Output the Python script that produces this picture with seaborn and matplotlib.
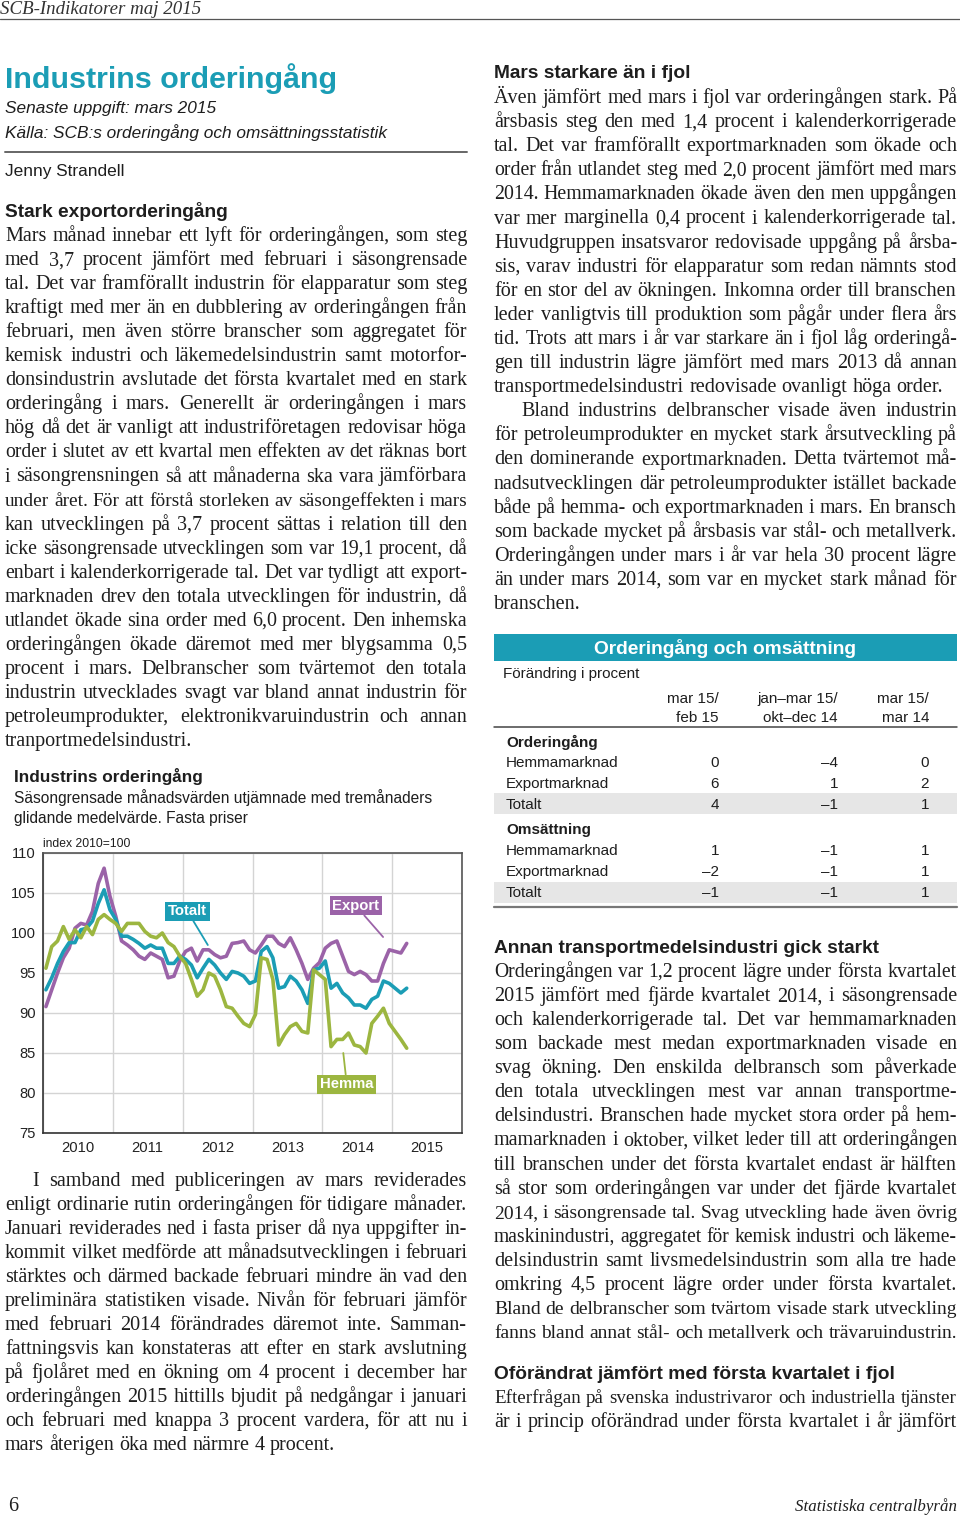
import numpy as np
import pandas as pd
import matplotlib
matplotlib.use("Agg")
import matplotlib.pyplot as plt
import seaborn as sns
from matplotlib.font_manager import FontProperties
from matplotlib.lines import Line2D
from matplotlib.patches import Rectangle
from matplotlib.ticker import FixedLocator, FixedFormatter, NullFormatter

# ---------------- data ----------------
months = pd.date_range("2010-01-01", "2015-03-01", freq="MS")
export = [90.8, 92.9, 95.0, 96.9, 98.1, 100.6, 101.2, 101.0, 102.7, 106.2,
          108.1, 104.6, 102.1, 99.0, 98.5, 97.9, 97.1, 96.7, 97.5, 97.1,
          96.7, 94.4, 94.6, 96.5, 97.7, 98.1, 96.5, 97.9, 97.9, 97.3,
          96.9, 97.1, 98.7, 98.8, 99.0, 97.9, 97.5, 98.5, 99.6, 99.6,
          98.7, 98.3, 99.4, 97.9, 96.2, 94.2, 95.6, 96.3, 98.1, 98.7,
          99.0, 97.1, 95.2, 94.8, 95.2, 94.8, 94.0, 94.0, 96.2, 97.9,
          97.7, 97.5, 98.7]
totalt = [92.9, 94.4, 96.2, 97.7, 98.8, 98.8, 100.4, 100.6, 101.5, 103.7,
          105.4, 102.9, 101.7, 99.6, 99.6, 99.2, 98.7, 98.1, 98.5, 98.1,
          98.1, 96.2, 96.2, 97.1, 96.7, 96.0, 94.4, 95.6, 96.7, 96.0,
          95.0, 94.2, 95.2, 95.0, 94.6, 93.7, 94.0, 97.7, 98.3, 96.9,
          93.1, 93.3, 94.6, 94.0, 92.9, 91.2, 95.4, 95.6, 96.5, 93.1,
          93.7, 92.5, 91.9, 91.0, 91.0, 90.6, 91.7, 92.1, 94.0, 93.7,
          93.1, 92.5, 93.1]
hemma = [95.6, 98.3, 99.0, 100.8, 99.2, 100.4, 99.4, 100.8, 99.8, 101.7,
         102.3, 101.7, 101.2, 100.2, 101.2, 101.2, 101.2, 100.2, 99.6, 99.4,
         100.0, 98.8, 98.3, 97.1, 96.2, 94.2, 92.1, 92.9, 95.0, 94.6,
         92.9, 90.8, 90.6, 89.6, 88.7, 88.3, 89.8, 96.9, 96.7, 94.2,
         86.0, 87.3, 88.3, 88.7, 87.7, 87.5, 95.4, 94.8, 94.2, 85.8,
         86.7, 86.7, 87.5, 86.0, 85.8, 85.0, 88.7, 89.6, 90.6, 88.7,
         87.7, 86.7, 85.6]
series_names = ["Export", "Totalt", "Hemma"]
year_labels = ["2010", "2011", "2012", "2013", "2014", "2015"]
y_ticks = [75, 80, 85, 90, 95, 100, 105, 110]

tab_cols = [["mar 15/", "feb 15"], ["jan\u2013mar 15/", "okt\u2013dec 14"], ["mar 15/", "mar 14"]]
tab_groups = ["Orderingång", "Omsättning"]
tab_rows = ["Hemmamarknad", "Exportmarknad", "Totalt"]
tab_order = [["0", "\u20134", "0"], ["6", "1", "2"], ["4", "\u20131", "1"]]
tab_oms = [["1", "\u20131", "1"], ["\u20132", "\u20131", "1"], ["\u20131", "\u20131", "1"]]

left_p1 = [
    "Mars månad innebar ett lyft för orderingången, som steg",
    "med 3,7 procent jämfört med februari i säsongrensade",
    "tal. Det var framförallt industrin för elapparatur som steg",
    "kraftigt med mer än en dubblering av orderingången från",
    "februari, men även större branscher som aggregatet för",
    "kemisk industri och läkemedelsindustrin samt motorfor-",
    "donsindustrin avslutade det första kvartalet med en stark",
    "orderingång i mars. Generellt är orderingången i mars",
    "hög då det är vanligt att industriföretagen redovisar höga",
    "order i slutet av ett kvartal men effekten av det räknas bort",
    "i säsongrensningen så att månaderna ska vara jämförbara",
    "under året. För att förstå storleken av säsongeffekten i mars",
    "kan utvecklingen på 3,7 procent sättas i relation till den",
    "icke säsongrensade utvecklingen som var 19,1 procent, då",
    "enbart i kalenderkorrigerade tal. Det var tydligt att export-",
    "marknaden drev den totala utvecklingen för industrin, då",
    "utlandet ökade sina order med 6,0 procent. Den inhemska",
    "orderingången ökade däremot med mer blygsamma 0,5",
    "procent i mars. Delbranscher som tvärtemot den totala",
    "industrin utvecklades svagt var bland annat industrin för",
    "petroleumprodukter, elektronikvaruindustrin och annan",
    "tranportmedelsindustri.",
]
left_p2 = [
    "I samband med publiceringen av mars reviderades",
    "enligt ordinarie rutin orderingången för tidigare månader.",
    "Januari reviderades ned i fasta priser då nya uppgifter in-",
    "kommit vilket medförde att månadsutvecklingen i februari",
    "stärktes och därmed backade februari mindre än vad den",
    "preliminära statistiken visade. Nivån för februari jämför",
    "med februari 2014 förändrades däremot inte. Samman-",
    "fattningsvis kan konstateras att efter en stark avslutning",
    "på fjolåret med en ökning om 4 procent i december har",
    "orderingången 2015 hittills bjudit på nedgångar i januari",
    "och februari med knappa 3 procent vardera, för att nu i",
    "mars återigen öka med närmre 4 procent.",
]
right_p1 = [
    "Även jämfört med mars i fjol var orderingången stark. På",
    "årsbasis steg den med 1,4 procent i kalenderkorrigerade",
    "tal. Det var framförallt exportmarknaden som ökade och",
    "order från utlandet steg med 2,0 procent jämfört med mars",
    "2014. Hemmamarknaden ökade även den men uppgången",
    "var mer marginella 0,4 procent i kalenderkorrigerade tal.",
    "Huvudgruppen insatsvaror redovisade uppgång på årsba-",
    "sis, varav industri för elapparatur som redan nämnts stod",
    "för en stor del av ökningen. Inkomna order till branschen",
    "leder vanligtvis till produktion som pågår under flera års",
    "tid. Trots att mars i år var starkare än i fjol låg orderingå-",
    "gen till industrin lägre jämfört med mars 2013 då annan",
    "transportmedelsindustri redovisade ovanligt höga order.",
]
right_p2 = [
    "Bland industrins delbranscher visade även industrin",
    "för petroleumprodukter en mycket stark årsutveckling på",
    "den dominerande exportmarknaden. Detta tvärtemot må-",
    "nadsutvecklingen där petroleumprodukter istället backade",
    "både på hemma- och exportmarknaden i mars. En bransch",
    "som backade mycket på årsbasis var stål- och metallverk.",
    "Orderingången under mars i år var hela 30 procent lägre",
    "än under mars 2014, som var en mycket stark månad för",
    "branschen.",
]
right_p3 = [
    "Orderingången var 1,2 procent lägre under första kvartalet",
    "2015 jämfört med fjärde kvartalet 2014, i säsongrensade",
    "och kalenderkorrigerade tal. Det var hemmamarknaden",
    "som backade mest medan exportmarknaden visade en",
    "svag ökning. Den enskilda delbransch som påverkade",
    "den totala utvecklingen mest var annan transportme-",
    "delsindustri. Branschen hade mycket stora order på hem-",
    "mamarknaden i oktober, vilket leder till att orderingången",
    "till branschen under det första kvartalet endast är hälften",
    "så stor som orderingången var under det fjärde kvartalet",
    "2014, i säsongrensade tal. Svag utveckling hade även övrig",
    "maskinindustri, aggregatet för kemisk industri och läkeme-",
    "delsindustrin samt livsmedelsindustrin som alla tre hade",
    "omkring 4,5 procent lägre order under första kvartalet.",
    "Bland de delbranscher som tvärtom visade stark utveckling",
    "fanns bland annat stål- och metallverk och trävaruindustrin.",
]
right_p4 = [
    "Efterfrågan på svenska industrivaror och industriella tjänster",
    "är i princip oförändrad under första kvartalet i år jämfört",
]

# ---------------- setup ----------------
W, H = 960, 1519
sns.set_theme(style="white")
SANS = "Liberation Sans"
SERIF = "Liberation Serif"
plt.rcParams["font.family"] = [SANS, "DejaVu Sans"]
INK = "#1e1e1e"
TEAL = "#1B9DB5"
PURPLE = "#9B63A8"
GREEN = "#9CB640"

fig = plt.figure(figsize=(W / 100, H / 100), dpi=100)
fig.patch.set_facecolor("white")
renderer = fig.canvas.get_renderer()


def prop(size, family=SANS, weight="normal", style="normal"):
    return FontProperties(family=family, size=size, weight=weight, style=style)


def width(s, p):
    return renderer.get_text_width_height_descent(s, p, ismath=False)[0]


def fit(s, target, family=SANS, weight="normal", style="normal"):
    return 10 * target / width(s, prop(10, family, weight, style))


def T(x, y, s, p, color=INK, ha="left"):
    fig.text(x / W, 1 - y / H, s, fontproperties=p, color=color, ha=ha, va="baseline")


def TC(x, yc, s, p, color=INK, ha="left"):
    base = yc + 0.36 * p.get_size_in_points() * 100 / 72
    T(x, base, s, p, color, ha)


def hline(x0, x1, y, color, lw):
    fig.add_artist(Line2D([x0 / W, x1 / W], [1 - y / H, 1 - y / H],
                          transform=fig.transFigure, color=color, lw=lw))


def rect(x0, y0, x1, y1, color):
    fig.add_artist(Rectangle((x0 / W, 1 - y1 / H), (x1 - x0) / W, (y1 - y0) / H,
                             transform=fig.transFigure, facecolor=color,
                             edgecolor="none", zorder=0))


# ---------------- page header ----------------
p = prop(fit("SCB-Indikatorer maj 2015", 201, SERIF, style="italic"), SERIF, style="italic")
T(0, 14, "SCB-Indikatorer maj 2015", p, color="#333333")
hline(0, 960, 19, "#555555", 0.9)

p = prop(fit("Industrins orderingång", 335, SANS, "bold"), SANS, "bold")
T(5, 88, "Industrins orderingång", p, color=TEAL)
p = prop(fit("Källa: SCB:s orderingång och omsättningsstatistik", 383, SANS, style="italic"), SANS, style="italic")
T(5, 113, "Senaste uppgift: mars 2015", p)
T(5, 138, "Källa: SCB:s orderingång och omsättningsstatistik", p)
hline(5, 467, 152, "#666666", 1.4)
T(5, 176, "Jenny Strandell", prop(p.get_size_in_points(), SANS))

hsize = fit("Stark exportorderingång", 224, SANS, "bold")
ph = prop(hsize, SANS, "bold")
T(5, 217, "Stark exportorderingång", ph)
T(494, 78, "Mars starkare än i fjol", ph)
T(494, 953, "Annan transportmedelsindustri gick starkt", ph)
T(494, 1379, "Oförändrat jämfört med första kvartalet i fjol", ph)

# ---------------- body text ----------------
paras = [
    (left_p1, 5, 467, 241, 24.05, 0, False),
    (left_p2, 5, 467, 1186, 24.0, 27, False),
    (right_p1, 494, 957, 103, 24.1, 0, False),
    (right_p2, 494, 957, 103 + 13 * 24.1, 24.1, 27, False),
    (right_p3, 494, 957, 977, 24.07, 0, False),
    (right_p4, 494, 957, 1403, 24.0, 0, True),
]


def space_w(pp):
    return width("n n", pp) - width("nn", pp)


def natural(words, pp):
    return sum(width(w, pp) for w in words) + space_w(pp) * (len(words) - 1)


p10 = prop(10, SERIF)
ratios = []
for lines, x0, x1, y0, dy, ind, jl in paras:
    for k, line in enumerate(lines):
        last = (k == len(lines) - 1) and not jl
        if last:
            continue
        avail = x1 - x0 - (ind if k == 0 else 0)
        ratios.append(natural(line.split(), p10) / avail)
body_size = min(10 / np.percentile(ratios, 70), 14.5)

for lines, x0, x1, y0, dy, ind, jl in paras:
    for k, line in enumerate(lines):
        y = y0 + k * dy
        xs = x0 + (ind if k == 0 else 0)
        avail = x1 - xs
        words = line.split()
        size = body_size
        nat = natural(words, prop(size, SERIF))
        if nat > avail * 0.995:
            size = size * avail * 0.995 / nat
        pb = prop(size, SERIF)
        ws = [width(w, pb) for w in words]
        last = (k == len(lines) - 1) and not jl
        if last or len(words) == 1:
            gap = space_w(pb)
        else:
            gap = (avail - sum(ws)) / (len(words) - 1)
        x = xs
        for w, wd in zip(words, ws):
            T(x, y, w, pb)
            x += wd + gap

# footer
T(8, 1511, "6", prop(body_size, SERIF))
pf = prop(fit("Statistiska centralbyrån", 161, SERIF, style="italic"), SERIF, style="italic")
T(957, 1511, "Statistiska centralbyrån", pf, ha="right")

# ---------------- table ----------------
rect(494, 634, 957, 661, TEAL)
pt = prop(fit("Orderingång och omsättning", 264, SANS, "bold"), SANS, "bold")
TC(725, 647, "Orderingång och omsättning", pt, color="white", ha="center")
ts = fit("Hemmamarknad", 113, SANS)
pr = prop(ts, SANS)
prb = prop(ts, SANS, "bold")
TC(503, 673, "Förändring i procent", pr)
col_x = [719, 838, 929]
for cx, (a, b) in zip(col_x, tab_cols):
    TC(cx, 698, a, pr, ha="right")
    TC(cx, 717, b, pr, ha="right")
hline(494, 957, 727, "#444444", 1.1)
row_y = [[762, 783, 804], [850, 871, 892]]
grp_y = [742, 829]
for gi, (gname, vals) in enumerate(zip(tab_groups, [tab_order, tab_oms])):
    TC(506, grp_y[gi], gname, prb)
    for ri, (rname, rv) in enumerate(zip(tab_rows, vals)):
        yc = row_y[gi][ri]
        if rname == "Totalt":
            rect(494, yc - 10.5, 957, yc + 10.5, "#e6e6e6")
        TC(506, yc, rname, pr)
        for cx, v in zip(col_x, rv):
            TC(cx, yc, v, pr, ha="right")
hline(494, 957, 907, "#777777", 1.6)

# ---------------- chart ----------------
ctitle = prop(fit("Industrins orderingång", 190, SANS, "bold"), SANS, "bold")
T(14, 782, "Industrins orderingång", ctitle)
csub = prop(fit("Säsongrensade månadsvärden utjämnade med tremånaders", 421, SANS), SANS)
T(14, 803, "Säsongrensade månadsvärden utjämnade med tremånaders", csub)
T(14, 823, "glidande medelvärde. Fasta priser", csub)
pidx = prop(fit("index 2010=100", 87, SANS), SANS)
T(43, 847, "index 2010=100", pidx)

ax = fig.add_axes([43 / W, 1 - 1133 / H, 419 / W, 280 / H])
xdec = months.year + (months.month - 0.5) / 12
df = pd.DataFrame({
    "x": np.tile(xdec, 3),
    "value": export + totalt + hemma,
    "series": np.repeat(series_names, len(months)),
})
sns.lineplot(data=df, x="x", y="value", hue="series", hue_order=series_names,
             palette={"Export": PURPLE, "Totalt": TEAL, "Hemma": GREEN},
             linewidth=2.6, legend=False, ax=ax, zorder=3)
ax.set_xlim(2010, 2016)
ax.set_ylim(75, 110)
ax.set_xlabel("")
ax.set_ylabel("")
tick_size = fit("2010", 33, SANS)
ax.xaxis.set_major_locator(FixedLocator(list(range(2010, 2017))))
ax.xaxis.set_major_formatter(NullFormatter())
ax.xaxis.set_minor_locator(FixedLocator([int(y) + 0.5 for y in year_labels]))
ax.xaxis.set_minor_formatter(FixedFormatter(year_labels))
ax.set_yticks(y_ticks)
ax.set_yticklabels([str(v) for v in y_ticks])
ax.tick_params(axis="both", which="both", length=0, labelsize=tick_size, colors="#222222")
ax.tick_params(axis="x", which="minor", pad=6)
ax.tick_params(axis="y", pad=5)
ax.grid(True, which="major", color="#d4d4d4", lw=1.0)
ax.set_axisbelow(True)
for s in ax.spines.values():
    s.set_visible(True)
    s.set_color("#555555")
    s.set_linewidth(1.2)
ax.spines["left"].set_color("#333333")
ax.spines["bottom"].set_color("#333333")

lab_size = fit("Totalt", 39, SANS, "bold")
for text, box, tip, col in [("Totalt", (2012.07, 102.7), (2012.36, 98.5), TEAL),
                            ("Export", (2014.48, 103.4), (2014.87, 99.5), PURPLE),
                            ("Hemma", (2014.35, 81.1), (2014.30, 85.0), GREEN)]:
    ax.annotate(text, xy=tip, xytext=box, ha="center", va="center",
                color="white", fontsize=lab_size, fontweight="bold",
                bbox=dict(boxstyle="square,pad=0.18", fc=col, ec="none"),
                arrowprops=dict(arrowstyle="-", color=col, lw=1.3,
                                shrinkA=0, shrinkB=0), zorder=5)

fig.savefig("out.png", dpi=100)
